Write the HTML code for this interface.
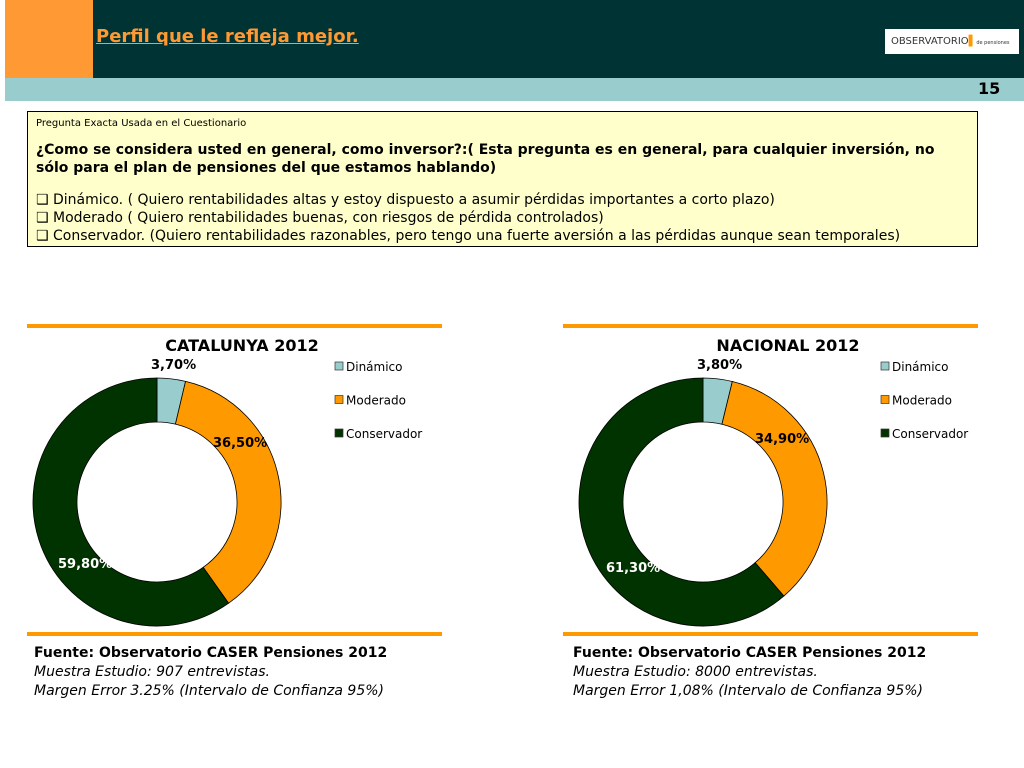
<!DOCTYPE html>
<html><head><meta charset="utf-8"><style>
body{margin:0;width:1024px;height:768px;background:#fff;position:relative;overflow:hidden;font-family:"DejaVu Sans","Liberation Sans",sans-serif}
.abs{position:absolute}
.q{font-size:14px;line-height:18px;color:#000}
.src{font-size:14px;line-height:19px;color:#000}
</style></head><body>
<div class="abs" style="left:5px;top:0;width:88px;height:78px;background:#ff9933"></div>
<div class="abs" style="left:93px;top:0;width:931px;height:78px;background:#003333"></div>
<div class="abs" style="left:96px;top:26px;color:#ff9933;font-size:18px;font-weight:bold;text-decoration:underline">Perfil que le refleja mejor.</div>
<div class="abs" style="left:885px;top:29px;width:134px;height:25px;background:#fff;font-size:10px;color:#333;line-height:25px;padding-left:6px;box-sizing:border-box">OBSERVATORIO<span style="color:#f90">▌</span><span style="font-size:5px">de pensiones</span></div>
<div class="abs" style="left:5px;top:78px;width:1019px;height:23px;background:#99cccc"></div>
<div class="abs" style="left:978px;top:79px;font-size:16px;font-weight:bold">15</div>
<div class="abs" style="left:27px;top:111px;width:951px;height:136px;background:#ffffcc;border:1px solid #000;box-sizing:border-box;padding:5px 8px">
<div style="font-size:10px;line-height:14px">Pregunta Exacta Usada en el Cuestionario</div>
<div class="q" style="font-weight:bold;margin-top:10px">¿Como se considera usted en general, como inversor?:( Esta pregunta es en general, para cualquier inversión, no sólo para el plan de pensiones del que estamos hablando)</div>
<div class="q" style="margin-top:14px">❑ Dinámico. ( Quiero rentabilidades altas y estoy dispuesto a asumir pérdidas importantes a corto plazo)<br>❑ Moderado ( Quiero rentabilidades buenas, con riesgos de pérdida controlados)<br>❑ Conservador. (Quiero rentabilidades razonables, pero tengo una fuerte aversión a las pérdidas aunque sean temporales)</div>
</div>
<svg class="abs" style="left:0;top:0" width="1024" height="768" id="charts"></svg>
<div class="abs src" style="left:34px;top:644px"><b>Fuente: Observatorio CASER Pensiones 2012</b><br><i>Muestra Estudio: 907 entrevistas.</i><br><i>Margen Error 3.25% (Intervalo de Confianza 95%)</i></div>
<div class="abs src" style="left:573px;top:644px"><b>Fuente: Observatorio CASER Pensiones 2012</b><br><i>Muestra Estudio: 8000 entrevistas.</i><br><i>Margen Error 1,08% (Intervalo de Confianza 95%)</i></div>
<script>
const categories=["Dinámico","Moderado","Conservador"];
const catalunyaValues=[3.7,36.5,59.8];
const nacionalValues=[3.8,34.9,61.3];
const catalunyaLabels=["3,70%","36,50%","59,80%"];
const nacionalLabels=["3,80%","34,90%","61,30%"];
const colors=["#99cccc","#ff9900","#003300"];
const svg=document.getElementById('charts');
const NS="http://www.w3.org/2000/svg";
function mk(t,a){const e=document.createElementNS(NS,t);for(const k in a)e.setAttribute(k,a[k]);svg.appendChild(e);return e;}
function donut(ox,ruleX,title,vals,labels,labelPos,key){
  const l1=mk('rect',{x:ruleX,y:324,width:415,height:4,fill:'#ff9900'});
  
  
  const l2=mk('rect',{x:ruleX,y:632,width:415,height:4,fill:'#ff9900'});
  
  
  const t=mk('text',{x:ox+242,y:351,'text-anchor':'middle','font-size':16,'font-weight':'bold','font-family':'DejaVu Sans,sans-serif'});
  t.textContent=title;
  
  
  const cx=ox+157,cy=502,R=124,r=80;
  const total=vals.reduce((a,b)=>a+b,0);
  let a0=0;
  vals.forEach((v,i)=>{
    const a1=a0+v/total*2*Math.PI;
    const p=(a,rr)=>[cx+rr*Math.sin(a),cy-rr*Math.cos(a)];
    const [x0,y0]=p(a0,R),[x1,y1]=p(a1,R),[x2,y2]=p(a1,r),[x3,y3]=p(a0,r);
    const lg=(a1-a0)>Math.PI?1:0;
    const s=mk('path',{d:`M${x0},${y0}A${R},${R} 0 ${lg} 1 ${x1},${y1}L${x2},${y2}A${r},${r} 0 ${lg} 0 ${x3},${y3}Z`,fill:colors[i],stroke:'#000','stroke-width':0.8});
    
    
    const lb=mk('text',{x:ox+labelPos[i][0],y:labelPos[i][1],'font-size':13,'font-weight':'bold','font-family':'DejaVu Sans,sans-serif',fill:i==2?'#fff':'#000'});
    lb.textContent=labels[i];
    
    
    a0=a1;
  });
  categories.forEach((c,i)=>{
    const y=362+i*33.5;
    const b=mk('rect',{x:ox+335,y:y,width:8,height:8,fill:colors[i],stroke:'#333','stroke-width':0.7});
    
    
    const tx=mk('text',{x:ox+346,y:y+9,'font-size':12,'font-family':'DejaVu Sans,sans-serif'});
    tx.textContent=c;
    
    
  });
}
donut(0,27,"CATALUNYA 2012",catalunyaValues,catalunyaLabels,[[151,369],[213,447],[58,568]],'catalunya');
donut(546,563,"NACIONAL 2012",nacionalValues,nacionalLabels,[[151,369],[209,443],[60,572]],'nacional');
</script>
</body></html>
